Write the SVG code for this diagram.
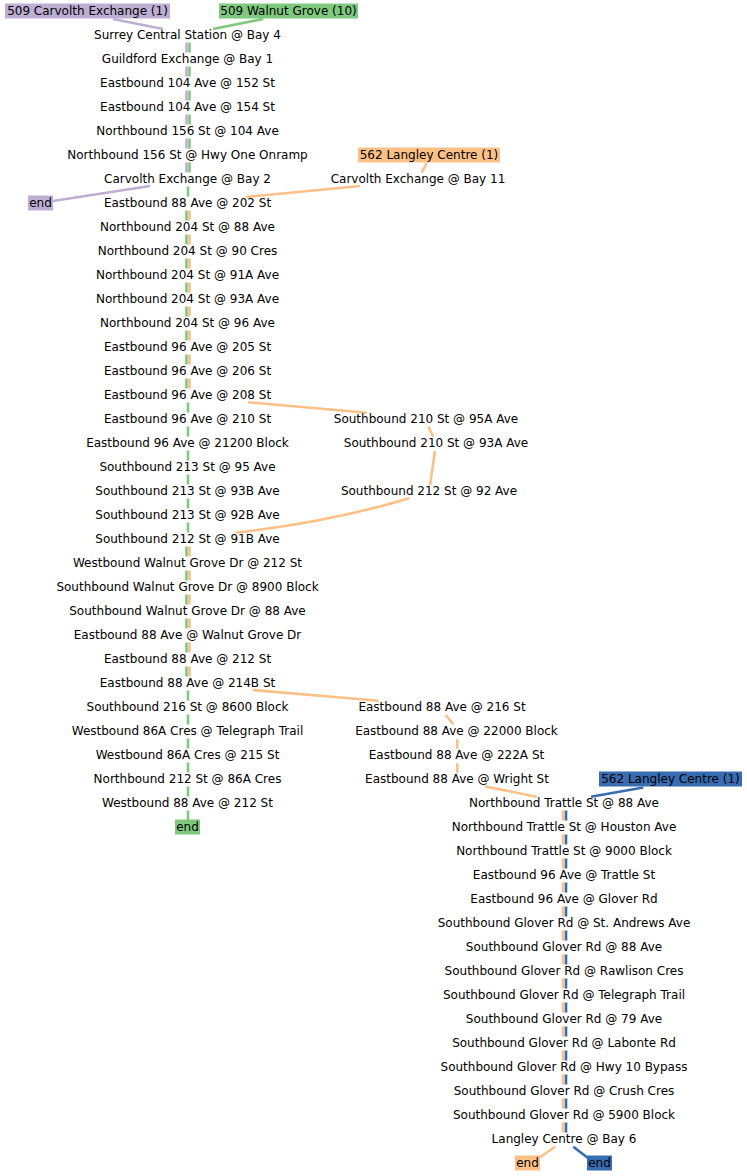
<svg xmlns="http://www.w3.org/2000/svg" width="747" height="1176" viewBox="0 0 747 1176">
<style>
text{font-family:"DejaVu Sans","Liberation Sans",sans-serif;font-size:12px;fill:#000;text-anchor:middle}
.e{fill:none;stroke-width:2.6;stroke-linecap:butt}
.p{stroke:#beaed4}.g{stroke:#7fc97f}.o{stroke:#fdc086}.b{stroke:#386cb0}
.fp{fill:#beaed4}.fg{fill:#7fc97f}.fo{fill:#fdc086}.fb{fill:#386cb0}
</style>
<rect width="747" height="1176" fill="#fff"/>
<g id="connectors">
<path class="e p" d="M113 19L163 29"/>
<path class="e g" d="M263 19L213 29"/>
<path class="e p" d="M186.5 42.5V52.5M186.5 66.5V76.5M186.5 90.5V100.5M186.5 114.5V124.5M186.5 138.5V148.5M186.5 162.5V172.5"/>
<path class="e g" d="M189.5 42.5V52.5M189.5 66.5V76.5M189.5 90.5V100.5M189.5 114.5V124.5M189.5 138.5V148.5M189.5 162.5V172.5"/>
<path class="e p" d="M150 186L53 201"/>
<path class="e g" d="M188 186.5V196.5"/>
<path class="e g" d="M186.5 210.5V220.5M186.5 234.5V244.5M186.5 258.5V268.5M186.5 282.5V292.5M186.5 306.5V316.5M186.5 330.5V340.5M186.5 354.5V364.5M186.5 378.5V388.5"/>
<path class="e o" d="M189.5 210.5V220.5M189.5 234.5V244.5M189.5 258.5V268.5M189.5 282.5V292.5M189.5 306.5V316.5M189.5 330.5V340.5M189.5 354.5V364.5M189.5 378.5V388.5"/>
<path class="e g" d="M188 402.5V412.5M188 426.5V436.5M188 450.5V460.5M188 474.5V484.5M188 498.5V508.5M188 522.5V532.5"/>
<path class="e g" d="M186.5 546.5V556.5M186.5 570.5V580.5M186.5 594.5V604.5M186.5 618.5V628.5M186.5 642.5V652.5M186.5 666.5V676.5"/>
<path class="e o" d="M189.5 546.5V556.5M189.5 570.5V580.5M189.5 594.5V604.5M189.5 618.5V628.5M189.5 642.5V652.5M189.5 666.5V676.5"/>
<path class="e g" d="M188 690.5V700.5M188 714.5V724.5M188 738.5V748.5M188 762.5V772.5M188 786.5V796.5M188 810.5V820"/>
<path class="e o" d="M426.7 163L421.7 172.5"/>
<path class="e o" d="M360 186L246 197"/>
<path class="e o" d="M248.3 402.3L366.7 412.7"/>
<path class="e o" d="M428.3 426.7L433.3 436.7"/>
<path class="e o" d="M435 451L430 485"/>
<path class="e o" d="M409.3 498.3Q330 522 236 532.7"/>
<path class="e o" d="M252.7 690L378.3 700.7"/>
<path class="e o" d="M445.7 715L453.3 724.3"/>
<path class="e o" d="M457.3 739.3V748.7M457.3 763.3V772.7"/>
<path class="e o" d="M485 786.5L536.7 796.7"/>
<path class="e b" d="M643.3 787.5L591 796.7"/>
<path class="e o" d="M563 810.5V820.5M563 834.5V844.5M563 858.5V868.5M563 882.5V892.5M563 906.5V916.5M563 930.5V940.5M563 954.5V964.5M563 978.5V988.5M563 1002.5V1012.5M563 1026.5V1036.5M563 1050.5V1060.5M563 1074.5V1084.5M563 1098.5V1108.5M563 1122.5V1132.5"/>
<path class="e b" d="M566 810.5V820.5M566 834.5V844.5M566 858.5V868.5M566 882.5V892.5M566 906.5V916.5M566 930.5V940.5M566 954.5V964.5M566 978.5V988.5M566 1002.5V1012.5M566 1026.5V1036.5M566 1050.5V1060.5M566 1074.5V1084.5M566 1098.5V1108.5M566 1122.5V1132.5"/>
<path class="e o" d="M555 1146.7L540 1157.3"/>
<path class="e b" d="M573.3 1146.7L588.3 1158.3"/>
</g>
<g id="label-509-carvolth"><rect class="fp" x="5" y="3.5" width="165" height="15"/><text x="87.5" y="15">509 Carvolth Exchange (1)</text></g>
<g id="label-509-walnut"><rect class="fg" x="219" y="3.5" width="139" height="15"/><text x="288.5" y="15">509 Walnut Grove (10)</text></g>
<g id="label-562-langley-a"><rect class="fo" x="358" y="147.5" width="142" height="15"/><text x="429" y="159">562 Langley Centre (1)</text></g>
<g id="label-562-langley-b"><rect class="fb" x="599" y="771.5" width="143" height="15"/><text x="670.5" y="783">562 Langley Centre (1)</text></g>
<g id="end-purple"><rect class="fp" x="28" y="195.5" width="25" height="15"/><text x="40.5" y="207">end</text></g>
<g id="end-green"><rect class="fg" x="175" y="819.5" width="25" height="15"/><text x="187.5" y="831">end</text></g>
<g id="end-orange"><rect class="fo" x="515" y="1155.5" width="25" height="15"/><text x="527.5" y="1167">end</text></g>
<g id="end-blue"><rect class="fb" x="587" y="1155.5" width="25" height="15"/><text x="599.5" y="1167">end</text></g>
<g id="s0"><text x="187.5" y="39">Surrey Central Station @ Bay 4</text></g>
<g id="s1"><text x="187.5" y="63">Guildford Exchange @ Bay 1</text></g>
<g id="s2"><text x="187.5" y="87">Eastbound 104 Ave @ 152 St</text></g>
<g id="s3"><text x="187.5" y="111">Eastbound 104 Ave @ 154 St</text></g>
<g id="s4"><text x="187.5" y="135">Northbound 156 St @ 104 Ave</text></g>
<g id="s5"><text x="187.5" y="159">Northbound 156 St @ Hwy One Onramp</text></g>
<g id="s6"><text x="187.5" y="183">Carvolth Exchange @ Bay 2</text></g>
<g id="s7"><text x="187.5" y="207">Eastbound 88 Ave @ 202 St</text></g>
<g id="s8"><text x="187.5" y="231">Northbound 204 St @ 88 Ave</text></g>
<g id="s9"><text x="187.5" y="255">Northbound 204 St @ 90 Cres</text></g>
<g id="s10"><text x="187.5" y="279">Northbound 204 St @ 91A Ave</text></g>
<g id="s11"><text x="187.5" y="303">Northbound 204 St @ 93A Ave</text></g>
<g id="s12"><text x="187.5" y="327">Northbound 204 St @ 96 Ave</text></g>
<g id="s13"><text x="187.5" y="351">Eastbound 96 Ave @ 205 St</text></g>
<g id="s14"><text x="187.5" y="375">Eastbound 96 Ave @ 206 St</text></g>
<g id="s15"><text x="187.5" y="399">Eastbound 96 Ave @ 208 St</text></g>
<g id="s16"><text x="187.5" y="423">Eastbound 96 Ave @ 210 St</text></g>
<g id="s17"><text x="187.5" y="447">Eastbound 96 Ave @ 21200 Block</text></g>
<g id="s18"><text x="187.5" y="471">Southbound 213 St @ 95 Ave</text></g>
<g id="s19"><text x="187.5" y="495">Southbound 213 St @ 93B Ave</text></g>
<g id="s20"><text x="187.5" y="519">Southbound 213 St @ 92B Ave</text></g>
<g id="s21"><text x="187.5" y="543">Southbound 212 St @ 91B Ave</text></g>
<g id="s22"><text x="187.5" y="567">Westbound Walnut Grove Dr @ 212 St</text></g>
<g id="s23"><text x="187.5" y="591">Southbound Walnut Grove Dr @ 8900 Block</text></g>
<g id="s24"><text x="187.5" y="615">Southbound Walnut Grove Dr @ 88 Ave</text></g>
<g id="s25"><text x="187.5" y="639">Eastbound 88 Ave @ Walnut Grove Dr</text></g>
<g id="s26"><text x="187.5" y="663">Eastbound 88 Ave @ 212 St</text></g>
<g id="s27"><text x="187.5" y="687">Eastbound 88 Ave @ 214B St</text></g>
<g id="s28"><text x="187.5" y="711">Southbound 216 St @ 8600 Block</text></g>
<g id="s29"><text x="187.5" y="735">Westbound 86A Cres @ Telegraph Trail</text></g>
<g id="s30"><text x="187.5" y="759">Westbound 86A Cres @ 215 St</text></g>
<g id="s31"><text x="187.5" y="783">Northbound 212 St @ 86A Cres</text></g>
<g id="s32"><text x="187.5" y="807">Westbound 88 Ave @ 212 St</text></g>
<g id="r6"><text x="418" y="183">Carvolth Exchange @ Bay 11</text></g>
<g id="r16"><text x="426" y="423">Southbound 210 St @ 95A Ave</text></g>
<g id="r17"><text x="436" y="447">Southbound 210 St @ 93A Ave</text></g>
<g id="r19"><text x="429" y="495">Southbound 212 St @ 92 Ave</text></g>
<g id="r28"><text x="442" y="711">Eastbound 88 Ave @ 216 St</text></g>
<g id="r29"><text x="456.5" y="735">Eastbound 88 Ave @ 22000 Block</text></g>
<g id="r30"><text x="456.5" y="759">Eastbound 88 Ave @ 222A St</text></g>
<g id="r31"><text x="457" y="783">Eastbound 88 Ave @ Wright St</text></g>
<g id="t32"><text x="564" y="807">Northbound Trattle St @ 88 Ave</text></g>
<g id="t33"><text x="564" y="831">Northbound Trattle St @ Houston Ave</text></g>
<g id="t34"><text x="564" y="855">Northbound Trattle St @ 9000 Block</text></g>
<g id="t35"><text x="564" y="879">Eastbound 96 Ave @ Trattle St</text></g>
<g id="t36"><text x="564" y="903">Eastbound 96 Ave @ Glover Rd</text></g>
<g id="t37"><text x="564" y="927">Southbound Glover Rd @ St. Andrews Ave</text></g>
<g id="t38"><text x="564" y="951">Southbound Glover Rd @ 88 Ave</text></g>
<g id="t39"><text x="564" y="975">Southbound Glover Rd @ Rawlison Cres</text></g>
<g id="t40"><text x="564" y="999">Southbound Glover Rd @ Telegraph Trail</text></g>
<g id="t41"><text x="564" y="1023">Southbound Glover Rd @ 79 Ave</text></g>
<g id="t42"><text x="564" y="1047">Southbound Glover Rd @ Labonte Rd</text></g>
<g id="t43"><text x="564" y="1071">Southbound Glover Rd @ Hwy 10 Bypass</text></g>
<g id="t44"><text x="564" y="1095">Southbound Glover Rd @ Crush Cres</text></g>
<g id="t45"><text x="564" y="1119">Southbound Glover Rd @ 5900 Block</text></g>
<g id="t46"><text x="564" y="1143">Langley Centre @ Bay 6</text></g>
</svg>
